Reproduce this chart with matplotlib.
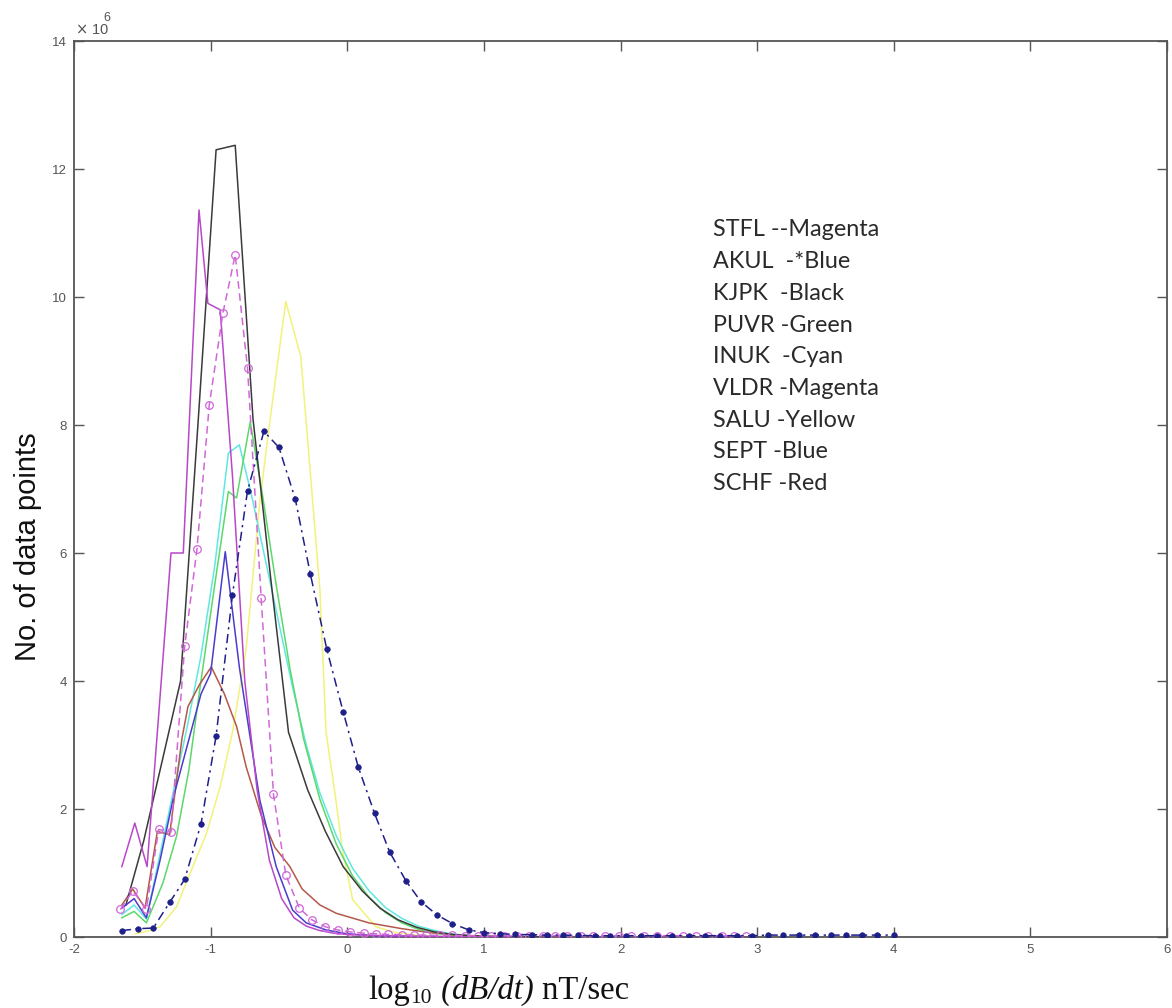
import matplotlib
matplotlib.use("Agg")
import matplotlib.pyplot as plt

SCALE = 1e6

# ---- data (values in units of 1e6 data points) ----
stfl_x = [-1.66, -1.57, -1.47, -1.38, -1.29, -1.19, -1.10, -1.01, -0.91, -0.82,
          -0.73, -0.63, -0.54, -0.45, -0.35, -0.26, -0.16, -0.07, 0.02, 0.12,
          0.21, 0.30, 0.40, 0.49, 0.58, 0.68, 0.77, 0.86, 0.96, 1.05,
          1.15, 1.24, 1.33, 1.43, 1.52, 1.61, 1.71, 1.80, 1.89, 1.99,
          2.08, 2.17, 2.27, 2.36, 2.46, 2.55, 2.64, 2.74, 2.83, 2.92]
stfl_y = [0.43, 0.72, 0.44, 1.68, 1.64, 4.54, 6.06, 8.31, 9.75, 10.66,
          8.89, 5.29, 2.23, 0.97, 0.45, 0.27, 0.16, 0.11, 0.08, 0.06,
          0.05, 0.04, 0.035, 0.03, 0.03, 0.025, 0.025, 0.02, 0.02, 0.02,
          0.02, 0.02, 0.02, 0.02, 0.02, 0.02, 0.02, 0.02, 0.02, 0.02,
          0.02, 0.02, 0.02, 0.02, 0.02, 0.02, 0.02, 0.02, 0.02, 0.02]

akul_x = [-1.65, -1.53, -1.42, -1.30, -1.19, -1.07, -0.96, -0.84, -0.73, -0.61,
          -0.50, -0.38, -0.27, -0.15, -0.03, 0.08, 0.20, 0.31, 0.43, 0.54,
          0.66, 0.77, 0.89, 1.00, 1.12, 1.23, 1.35, 1.46, 1.58, 1.69,
          1.81, 1.92, 2.04, 2.15, 2.27, 2.38, 2.50, 2.62, 2.73, 2.85,
          2.96, 3.08, 3.19, 3.31, 3.42, 3.54, 3.65, 3.77, 3.88, 4.00]
akul_y = [0.10, 0.13, 0.14, 0.54, 0.90, 1.77, 3.14, 5.35, 6.97, 7.90,
          7.65, 6.84, 5.67, 4.50, 3.52, 2.66, 1.93, 1.33, 0.875, 0.55,
          0.34, 0.21, 0.11, 0.07, 0.05, 0.04, 0.035, 0.03, 0.03, 0.025,
          0.02, 0.02, 0.02, 0.02, 0.02, 0.02, 0.02, 0.02, 0.02, 0.02,
          0.02, 0.03, 0.03, 0.03, 0.03, 0.03, 0.03, 0.03, 0.03, 0.03]

kjpk_x = [-1.62, -1.49, -1.36, -1.22, -1.09, -0.96, -0.82, -0.69, -0.56, -0.43,
          -0.29, -0.16, -0.03, 0.11, 0.24, 0.37, 0.51, 0.64, 0.77, 0.91,
          1.04, 1.17, 1.31, 1.44, 1.57]
kjpk_y = [0.50, 1.50, 2.70, 4.00, 8.10, 12.30, 12.37, 8.10, 5.60, 3.20,
          2.30, 1.65, 1.10, 0.72, 0.45, 0.27, 0.15, 0.08, 0.04, 0.02,
          0.01, 0.01, 0.0, 0.0, 0.0]

puvr_x = [-1.65, -1.56, -1.47, -1.35, -1.25, -1.16, -1.08, -0.97, -0.87, -0.81,
          -0.71, -0.62, -0.52, -0.42, -0.32, -0.20, -0.08, 0.04, 0.16, 0.28,
          0.40, 0.52, 0.64, 0.76, 0.88, 1.00, 1.20, 1.50]
puvr_y = [0.30, 0.40, 0.22, 0.84, 1.57, 2.60, 3.86, 5.50, 6.96, 6.86,
          8.05, 6.90, 5.50, 4.20, 3.10, 2.15, 1.45, 0.95, 0.62, 0.38,
          0.22, 0.12, 0.06, 0.03, 0.015, 0.01, 0.0, 0.0]

inuk_x = [-1.65, -1.56, -1.47, -1.37, -1.27, -1.17, -1.07, -0.97, -0.87, -0.79,
          -0.70, -0.60, -0.50, -0.40, -0.30, -0.20, -0.08, 0.04, 0.16, 0.28,
          0.40, 0.52, 0.64, 0.76, 0.88, 1.00, 1.20, 1.50]
inuk_y = [0.35, 0.50, 0.28, 1.30, 2.30, 3.30, 4.40, 5.80, 7.56, 7.69,
          6.90, 5.90, 4.90, 3.90, 3.00, 2.25, 1.58, 1.07, 0.72, 0.46,
          0.29, 0.17, 0.10, 0.05, 0.025, 0.01, 0.0, 0.0]

vldr_x = [-1.65, -1.555, -1.465, -1.29, -1.20, -1.085, -1.02, -0.93, -0.84, -0.75,
          -0.66, -0.57, -0.48, -0.39, -0.30, -0.20, -0.10, 0.00, 0.10, 0.30,
          0.50, 0.80, 1.20]
vldr_y = [1.10, 1.78, 1.10, 6.00, 6.00, 11.36, 9.90, 9.80, 7.20, 4.00,
          2.30, 1.20, 0.60, 0.30, 0.17, 0.10, 0.06, 0.04, 0.03, 0.02,
          0.01, 0.005, 0.0]

salu_x = [-1.55, -1.45, -1.37, -1.25, -1.13, -1.03, -0.93, -0.84, -0.74, -0.64,
          -0.57, -0.45, -0.34, -0.30, -0.25, -0.20, -0.155, -0.083, -0.035, 0.04,
          0.21, 0.35, 0.50, 0.65, 0.90]
salu_y = [0.05, 0.10, 0.16, 0.47, 1.10, 1.62, 2.35, 3.20, 4.50, 6.80,
          8.00, 9.93, 9.07, 8.03, 6.72, 5.42, 3.20, 2.14, 1.36, 0.58,
          0.16, 0.07, 0.03, 0.01, 0.0]

sept_x = [-1.65, -1.56, -1.47, -1.37, -1.27, -1.17, -1.07, -1.00, -0.893, -0.79,
          -0.64, -0.52, -0.40, -0.30, -0.155, 0.00, 0.20, 0.50, 0.90]
sept_y = [0.45, 0.60, 0.30, 1.20, 2.20, 3.00, 3.80, 4.12, 6.02, 4.22,
          2.14, 1.10, 0.42, 0.22, 0.11, 0.05, 0.02, 0.01, 0.0]

schf_x = [-1.65, -1.57, -1.48, -1.39, -1.30, -1.21, -1.166, -1.08, -0.995, -0.90,
          -0.81, -0.74, -0.63, -0.53, -0.42, -0.33, -0.20, -0.08, 0.16, 0.40,
          0.60, 0.80, 1.00, 1.30]
schf_y = [0.50, 0.75, 0.45, 1.65, 1.60, 3.10, 3.60, 3.95, 4.22, 3.80,
          3.29, 2.66, 1.90, 1.40, 1.10, 0.75, 0.50, 0.37, 0.22, 0.13,
          0.07, 0.03, 0.01, 0.0]

legend_lines = ["STFL --Magenta", "AKUL  -*Blue", "KJPK  -Black", "PUVR -Green",
                "INUK  -Cyan", "VLDR -Magenta", "SALU -Yellow", "SEPT -Blue",
                "SCHF -Red"]

x_ticks = [-2, -1, 0, 1, 2, 3, 4, 5, 6]
y_ticks = [0, 2, 4, 6, 8, 10, 12, 14]

# ---- figure ----
W, H = 1172, 1008
fig = plt.figure(figsize=(W / 100, H / 100), dpi=100)
ax = fig.add_axes([74 / W, 1 - 937 / H, (1167 - 74) / W, (937 - 41) / H])

def sc(v):
    return [a * SCALE for a in v]

lw = 1.1
ax.plot(salu_x, sc(salu_y), color='#f2f27a', lw=lw, zorder=2)
ax.plot(inuk_x, sc(inuk_y), color='#5fe8e0', lw=lw, zorder=2)
ax.plot(puvr_x, sc(puvr_y), color='#5cd86a', lw=lw, zorder=2)
ax.plot(schf_x, sc(schf_y), color='#b4584a', lw=lw, zorder=3)
ax.plot(kjpk_x, sc(kjpk_y), color='#3a3a3a', lw=lw, zorder=3)
ax.plot(sept_x, sc(sept_y), color='#4a3ccc', lw=lw, zorder=3)
ax.plot(vldr_x, sc(vldr_y), color='#b848c8', lw=lw, zorder=3)
ax.plot(stfl_x, sc(stfl_y), color='#d068d8', lw=lw, ls=(0, (5, 3)),
        marker='o', ms=5.5, mfc='none', mew=0.9, zorder=4)
ax.plot(akul_x, sc(akul_y), color='#1f1f8a', lw=lw, ls=(0, (6, 3, 1.5, 3)),
        marker='o', ms=4.0, mfc='#1f1f8a', mew=0.5, zorder=5)

ax.set_xlim(-2, 6)
ax.set_ylim(0, 14 * SCALE)
ax.set_xticks(x_ticks)
ax.set_yticks([t * SCALE for t in y_ticks])
ax.set_xticklabels([str(t) for t in x_ticks])
ax.set_yticklabels([str(t) for t in y_ticks])
ax.tick_params(direction='in', length=7, width=1.0, color='#555555',
               top=True, right=True, labelsize=9.5, labelcolor='#555555', pad=5)
for lab in ax.get_xticklabels() + ax.get_yticklabels():
    lab.set_family('Liberation Sans')
for s in ax.spines.values():
    s.set_color('#555555')
    s.set_linewidth(1.3)

# MATLAB-style exponent label above the top-left corner
ax.text(0.001, 1.004, r'$\times$ 10', transform=ax.transAxes, ha='left',
        va='bottom', fontsize=10.5, color='#555555', family='Liberation Sans')
ax.text(0.027, 1.019, '6', transform=ax.transAxes, ha='left', va='bottom',
        fontsize=9, color='#555555', family='Liberation Sans')

for i, t in enumerate(legend_lines):
    fig.text(713 / W, 1 - (230 + i * 31.7) / H, t, fontsize=16.8,
             family='Lato', color='#2a2a2a', ha='left', va='center')

fig.text(28 / W, 1 - 547 / H, 'No. of data points', rotation=90,
         family='Liberation Sans', fontsize=21, ha='center', va='center',
         color='#111111')

# x label built from pieces: log, subscript 10, italic (dB/dt), nT/sec
renderer = fig.canvas.get_renderer()
base_y = 1 - 999 / H
x0 = 368 / W
pieces = [('log', 23.5, 'normal', 0.0),
          ('10', 15.5, 'normal', -4.0),
          (' (dB/dt)', 23.5, 'italic', 0.0),
          (' nT/sec', 23.5, 'normal', 0.0)]
for txt, fs, style, dy in pieces:
    t = fig.text(x0, base_y + dy / H, txt, fontsize=fs, style=style,
                 family='Liberation Serif', ha='left', va='baseline',
                 color='#111111')
    bb = t.get_window_extent(renderer)
    x0 = bb.x1 / W + (1.5 / W if txt == '10' else 0)

fig.savefig('out.png', dpi=100)
